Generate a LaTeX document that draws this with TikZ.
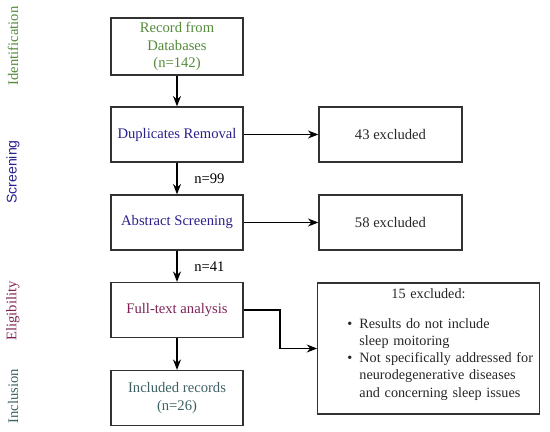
\documentclass[tikz,border=0pt]{standalone}
\usepackage{fontspec}
\setmainfont{Liberation Serif}
\setsansfont{Liberation Sans}
\usetikzlibrary{arrows.meta,positioning}
\definecolor{identGreen}{RGB}{84,138,58}
\definecolor{screenBlue}{RGB}{42,32,140}
\definecolor{eligPurple}{RGB}{125,35,85}
\definecolor{inclTeal}{RGB}{62,96,100}
\definecolor{boxGray}{RGB}{50,50,50}

\begin{document}
\begin{tikzpicture}[
            x=0.025cm, y=-0.025cm,
            font=\fontsize{10.4}{12.2}\selectfont,
            block/.style={rectangle, draw=boxGray, line width=0.9pt, minimum width=3.3cm, minimum height=1.375cm, align=center},
            exclbox/.style={block, minimum width=3.575cm, text=black!85},
            phase/.style={rotate=90, anchor=center},
            arrow/.style={-{Stealth[length=2.6mm,width=2mm]}, line width=0.9pt}
        ]
            \useasboundingbox (0,0) rectangle (550,432);
            % phase labels
            \node[phase, text=identGreen] (idlab) at (13,46) {Identification};
            \node[phase, text=screenBlue, font=\sffamily\fontsize{10}{12}\selectfont] (scrlab) at (13,172) {Screening};
            \node[phase, text=eligPurple] (eliglab) at (13,311) {Eligibility};
            \node[phase, text=inclTeal] (incllab) at (13,396) {Inclusion};
            % main column
            \node[block, text=identGreen] (rec) at (177,46.5) {Record from\\Databases\\(n=142)};
            \node[block, text=screenBlue] (dup) at (177,134.5) {Duplicates Removal};
            \node[block, text=screenBlue] (abs) at (177,222.5) {Abstract Screening};
            \node[block, text=eligPurple] (full) at (177,310) {Full-text analysis};
            \node[block, text=inclTeal] (incl) at (177,398) {Included records\\(n=26)};
            % excluded boxes
            \node[exclbox, minimum width=5.475cm, minimum height=3.275cm, text width=5.3cm, align=left,
                  font=\fontsize{10.1}{12.2}\selectfont] (ex3) at (428.5,348.5) {%
                \makebox[5.3cm][c]{15 excluded:}\\[9pt]
                \hspace*{0.62cm}\begin{tabular}[t]{@{}l@{\hspace{0.18cm}}l@{}}
                \textbullet & Results do not include\\
                            & sleep moitoring\\
                \textbullet & Not specifically addressed for\\
                            & neurodegenerative diseases\\
                            & and concerning sleep issues\rule[-8pt]{0pt}{8pt}
                \end{tabular}};
            \node[exclbox] (ex1) at (390.5,134.5) {43 excluded};
            \node[exclbox] (ex2) at (390.5,222.5) {58 excluded};
            \coordinate (bend) at (280,310);

            \draw[arrow] (rec) -- (dup);
            \draw[arrow] (dup) -- node[midway, right=0.3cm] (n99) {n=99} (abs);
            \draw[arrow] (abs) -- node[midway, right=0.3cm] (n41) {n=41} (full);
            \draw[arrow] (full) -- (incl);
            \draw[arrow] (dup) -- (ex1);
            \draw[arrow] (abs) -- (ex2);
            \draw[arrow] (full.east) -- (bend) |- (ex3.west);
        \end{tikzpicture}
\end{document}
